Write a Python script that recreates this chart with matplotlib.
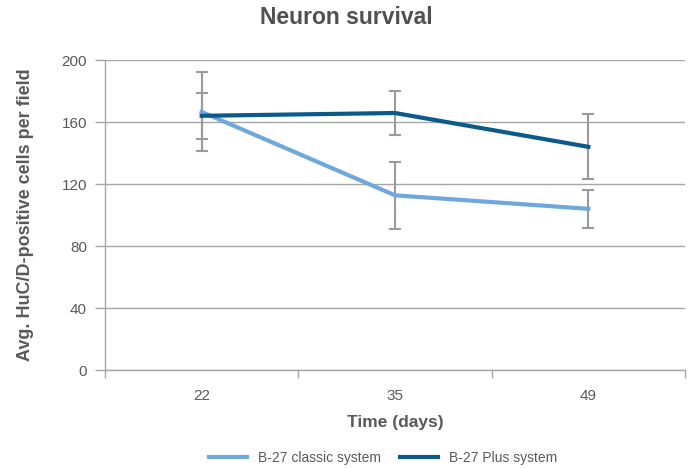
import matplotlib
matplotlib.use("Agg")
import matplotlib.pyplot as plt
import numpy as np

plt.rcParams["font.family"] = ["Liberation Sans", "DejaVu Sans"]

days = ["22", "35", "49"]
classic = [166.5, 112.7, 104.0]
classic_err = [25.5, 21.7, 12.2]
plus = [164.0, 165.8, 144.0]
plus_err = [15.0, 14.4, 21.0]
yticks = [0, 40, 80, 120, 160, 200]

fig = plt.figure(figsize=(6.93, 4.68), dpi=100)
ax = fig.add_axes([105/693, 1-370/468, 580/693, 310/468])
x = np.arange(len(days))
grid_c = "#A6A6A6"
txt_c = "#595959"

ax.errorbar(x, classic, yerr=classic_err, fmt="none", ecolor="#9A9A9A", elinewidth=1.5, capsize=4, capthick=1.5, zorder=2)
ax.errorbar(x, plus, yerr=plus_err, fmt="none", ecolor="#9A9A9A", elinewidth=1.5, capsize=4, capthick=1.5, zorder=2)
ax.plot(x, classic, color="#6FA8DC", lw=3, label="B-27 classic system", zorder=3)
ax.plot(x, plus, color="#0B5A8C", lw=3, label="B-27 Plus system", zorder=4)

ax.set_xlim(-0.5, 2.5)
ax.set_ylim(0, 200)
ax.set_yticks(yticks)
ax.set_xticks(x)
ax.set_xticklabels(days)
ax.set_xticks([-0.5, 0.5, 1.5, 2.5], minor=True)
ax.tick_params(axis="x", which="major", length=0, pad=14, labelsize=11, colors=txt_c)
ax.tick_params(axis="x", which="minor", length=6, color=grid_c, width=1)
ax.tick_params(axis="y", length=7, color=grid_c, width=1, labelsize=11, labelcolor=txt_c, pad=6)
ax.grid(axis="y", color=grid_c, lw=1)
ax.set_axisbelow(True)
for s in ["top", "right"]:
    ax.spines[s].set_visible(False)
for s in ["left", "bottom"]:
    ax.spines[s].set_color(grid_c)
    ax.spines[s].set_linewidth(1)

ax.set_xlabel("Time (days)", fontsize=12.5, fontweight="bold", color=txt_c, labelpad=8)
ax.set_ylabel("Avg. HuC/D-positive cells per field", fontsize=13, fontweight="bold", color=txt_c, labelpad=20)
fig.text(0.5, 1-18/468, "Neuron survival", ha="center", va="center", fontsize=16.5, fontweight="bold", color="#505050")

leg = fig.legend(loc="center", bbox_to_anchor=(0.553, 1-458/468), ncol=2, frameon=False, fontsize=10, handlelength=2.7, columnspacing=1.4)
for t in leg.get_texts():
    t.set_color(txt_c)

fig.savefig("out.png", dpi=100)
